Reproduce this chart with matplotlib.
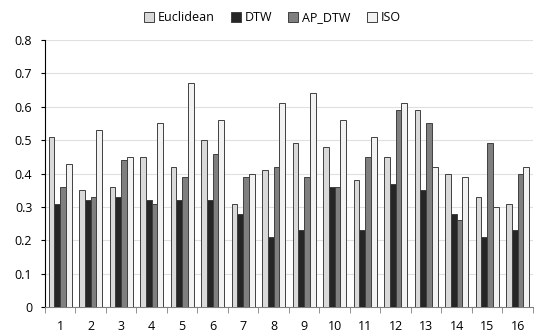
import matplotlib.pyplot as plt
import numpy as np

categories = [str(i) for i in range(1, 17)]
euclidean = [0.51, 0.35, 0.36, 0.45, 0.42, 0.50, 0.31, 0.41, 0.49, 0.48, 0.38, 0.45, 0.59, 0.40, 0.33, 0.31]
dtw = [0.31, 0.32, 0.33, 0.32, 0.32, 0.32, 0.28, 0.21, 0.23, 0.36, 0.23, 0.37, 0.35, 0.28, 0.21, 0.23]
ap_dtw = [0.36, 0.33, 0.44, 0.31, 0.39, 0.46, 0.39, 0.42, 0.39, 0.36, 0.45, 0.59, 0.55, 0.26, 0.49, 0.40]
iso = [0.43, 0.53, 0.45, 0.55, 0.67, 0.56, 0.40, 0.61, 0.64, 0.56, 0.51, 0.61, 0.42, 0.39, 0.30, 0.42]

series = [("Euclidean", euclidean, "#d9d9d9"),
          ("DTW", dtw, "#262626"),
          ("AP_DTW", ap_dtw, "#7f7f7f"),
          ("ISO", iso, "#f2f2f2")]

plt.rcParams['font.family'] = ['Open Sans', 'DejaVu Sans']

fig = plt.figure(figsize=(5.34, 3.36), dpi=100)
ax = fig.add_axes([0.084, 0.086, 0.914, 0.795])

x = np.arange(len(categories))
width = 0.19
for i, (name, vals, color) in enumerate(series):
    ax.bar(x + (i - 1.5) * width, vals, width, color=color, edgecolor="#404040",
           linewidth=0.7, label=name, zorder=3)

ax.set_xlim(-0.5, len(categories) - 0.5)
ax.set_ylim(0, 0.8)
ax.set_yticks(np.arange(0, 0.81, 0.1))
ax.set_yticklabels(["0"] + [f"{v:.1f}" for v in np.arange(0.1, 0.81, 0.1)], fontsize=9)
ax.yaxis.grid(True, color="#e0e0e0", linewidth=0.8, zorder=0)

# category labels centred, tick marks between groups
ax.set_xticks(x)
ax.set_xticklabels(categories, fontsize=9)
ax.tick_params(axis="x", length=0, pad=9)
ax.set_xticks(np.arange(-0.5, len(categories)), minor=True)
ax.tick_params(axis="x", which="minor", length=4, color="#808080", direction="out")
ax.tick_params(axis="y", length=3, direction="out", pad=6)

for side in ["top", "right"]:
    ax.spines[side].set_visible(False)
ax.spines["left"].set_color("black")
ax.spines["bottom"].set_color("#808080")

fig.legend(loc="upper center", bbox_to_anchor=(0.51, 1.0), ncol=4, frameon=False,
           fontsize=9, handlelength=0.8, handleheight=0.8, handletextpad=0.3,
           columnspacing=1.3)

fig.savefig("out.png", dpi=100)
